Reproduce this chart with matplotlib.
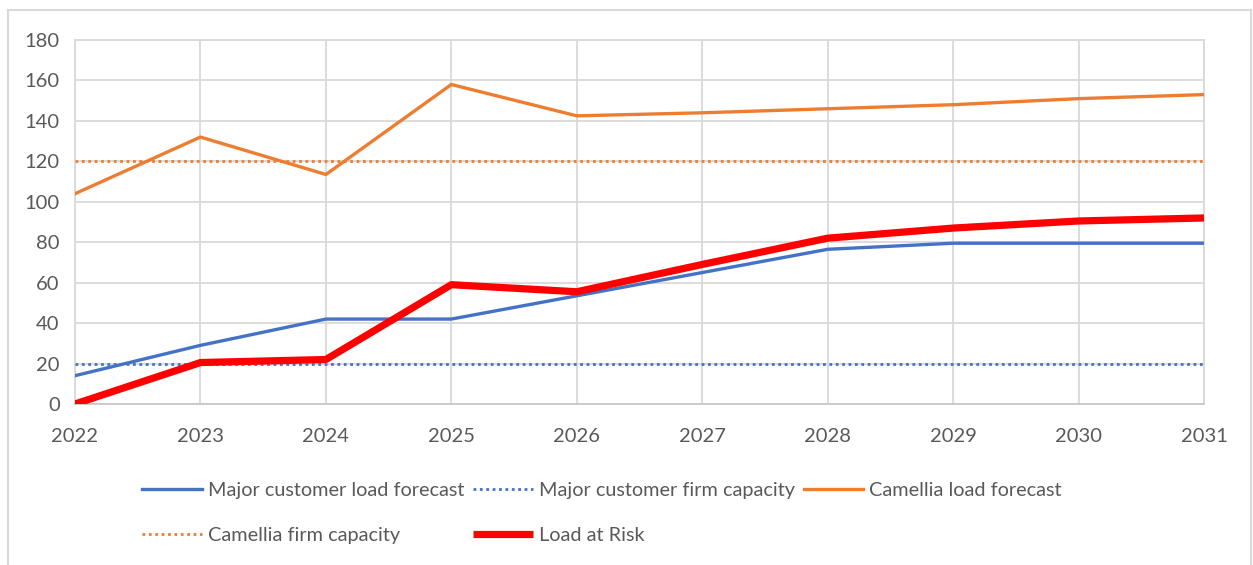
import matplotlib
matplotlib.use("Agg")
import matplotlib.pyplot as plt
from matplotlib.patches import Rectangle

years = [2022, 2023, 2024, 2025, 2026, 2027, 2028, 2029, 2030, 2031]
major_load = [14, 29, 42, 42, 53.5, 65, 76.5, 79.5, 79.5, 79.5]
major_firm = [20, 20, 20, 20, 20, 20, 20, 20, 20, 20]
camellia_load = [104, 132, 113.5, 158, 142.5, 144, 146, 148, 151, 153]
camellia_firm = [120, 120, 120, 120, 120, 120, 120, 120, 120, 120]
load_at_risk = [0, 20.5, 22, 59, 55.5, 69, 82, 87, 90.5, 92]
yticks = [0, 20, 40, 60, 80, 100, 120, 140, 160, 180]

FONT = "Lato"
TXT = "#595959"
W, H = 1253, 565
fig = plt.figure(figsize=(W / 100, H / 100), dpi=100)
ax = fig.add_axes([75 / W, 1 - 404 / H, (1204 - 75) / W, (404 - 40) / H])

# outer chart border
fig.patches.append(Rectangle((8 / W, -0.05), (1251 - 8) / W, 1 - 10 / H + 0.05,
                             transform=fig.transFigure, fill=False,
                             edgecolor="#d9d9d9", linewidth=1.5))

blue = "#4472C4"
orange = "#ED7D31"
red = "#FF0000"

h1, = ax.plot(years, major_load, color=blue, lw=2.4, label="Major customer load forecast", zorder=3)
h2, = ax.plot(years, major_firm, color=blue, lw=2.0, ls=(0, (1, 1.3)), label="Major customer firm capacity", zorder=3)
h3, = ax.plot(years, camellia_load, color=orange, lw=2.4, label="Camellia load forecast", zorder=3)
h4, = ax.plot(years, camellia_firm, color=orange, lw=2.0, ls=(0, (1, 1.3)), label="Camellia firm capacity", zorder=3)
h5, = ax.plot(years, load_at_risk, color=red, lw=5.2, label="Load at Risk", zorder=4, solid_capstyle="butt")

ax.set_xlim(years[0], years[-1])
ax.set_ylim(0, 180)
ax.set_yticks(yticks)
ax.set_xticks(years)
ax.grid(True, color="#d9d9d9", lw=1.3)
ax.set_axisbelow(True)
for s in ax.spines.values():
    s.set_color("#d9d9d9")
    s.set_linewidth(1.3)
ax.spines["bottom"].set_color("#c8c8c8")
ax.tick_params(length=0, labelsize=14.5, colors=TXT, pad=11)
ax.tick_params(axis="x", pad=17)
for lab in ax.get_xticklabels() + ax.get_yticklabels():
    lab.set_fontfamily(FONT)

handles = [h1, h4, h2, h5, h3]
leg = fig.legend(handles=handles, labels=[h.get_label() for h in handles],
                 ncol=3, loc="center", bbox_to_anchor=(602 / W, 1 - 513 / H),
                 frameon=False, handlelength=3.0, handletextpad=0.3,
                 columnspacing=0.45, labelspacing=1.4,
                 prop={"family": FONT, "size": 14.3})
for t in leg.get_texts():
    t.set_color(TXT)

fig.savefig("out.png", dpi=100)
